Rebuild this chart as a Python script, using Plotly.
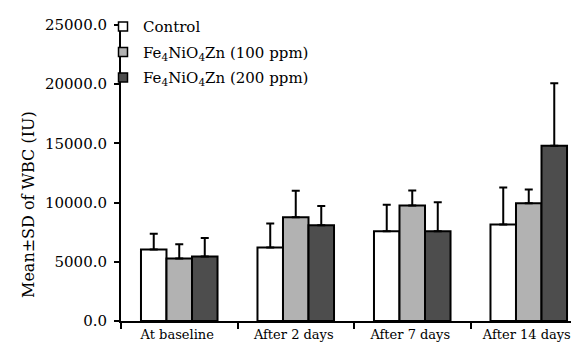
import plotly.graph_objects as go

categories = ["At baseline", "After 2 days", "After 7 days", "After 14 days"]
series_names = ["Control", "Fe<sub>4</sub>NiO<sub>4</sub>Zn (100 ppm)", "Fe<sub>4</sub>NiO<sub>4</sub>Zn (200 ppm)"]
control_mean = [6040, 6210, 7590, 8150]
control_sd = [1320, 2020, 2220, 3120]
ppm100_mean = [5280, 8770, 9750, 9950]
ppm100_sd = [1210, 2240, 1265, 1150]
ppm200_mean = [5450, 8090, 7590, 14800]
ppm200_sd = [1550, 1630, 2445, 5290]
y_ticks = [0, 5000, 10000, 15000, 20000, 25000]

colors = ["#ffffff", "#b2b2b2", "#4d4d4d"]
means = [control_mean, ppm100_mean, ppm200_mean]
sds = [control_sd, ppm100_sd, ppm200_sd]

FONT = "DejaVu Serif"
FS = 15

fig = go.Figure()
for name, m, s, c in zip(series_names, means, sds, colors):
    fig.add_trace(go.Bar(
        x=categories, y=m, name=name, showlegend=False,
        marker=dict(color=c, line=dict(color="black", width=2)),
        error_y=dict(type="data", array=s, arrayminus=[0] * len(s), symmetric=False,
                     color="black", thickness=2, width=4),
    ))
# legend-only entries with small square swatches
for i, (name, c) in enumerate(zip(series_names, colors)):
    fig.add_trace(go.Scatter(
        x=[None], y=[None], mode="markers", name=name, legendgroup=f"g{i}",
        marker=dict(symbol="square", size=9, color=c, line=dict(color="black", width=1.5)),
    ))

fig.update_layout(
    width=579, height=352,
    margin=dict(l=113, r=0, t=17, b=39, autoexpand=False),
    paper_bgcolor="white", plot_bgcolor="white",
    barmode="group", bargap=0.343, bargroupgap=0,
    font=dict(family=FONT, size=FS, color="black"),
    showlegend=True,
    legend=dict(x=(95 - 113) / 466, y=1.05, xanchor="left", yanchor="top",
                bgcolor="rgba(0,0,0,0)", font=dict(size=FS, family=FONT),
                tracegroupgap=3, itemwidth=30),
    xaxis=dict(showline=True, linecolor="black", linewidth=2,
               ticks="outside", tickson="boundaries", ticklen=6, tickwidth=2,
               tickcolor="black", showgrid=False, zeroline=False, tickangle=0,
               ticklabelshift=-2,
               tickfont=dict(size=13, family=FONT, color="black")),
    yaxis=dict(range=[0, 25000], tickvals=y_ticks, tickformat=".1f",
               showline=True, linecolor="black", linewidth=2,
               ticks="outside", ticklen=5, tickwidth=2, tickcolor="black",
               showgrid=False, zeroline=False, ticklabelstandoff=4,
               tickfont=dict(size=FS, family=FONT, color="black")),
    annotations=[dict(text="Mean±SD of WBC (IU)", textangle=-90,
                      x=(20 - 113) / 466, xref="paper", xanchor="center",
                      y=(313 - 197) / 296, yref="paper", yanchor="middle",
                      showarrow=False, font=dict(size=16, family=FONT, color="black"))],
)

fig.write_html("out.html")
